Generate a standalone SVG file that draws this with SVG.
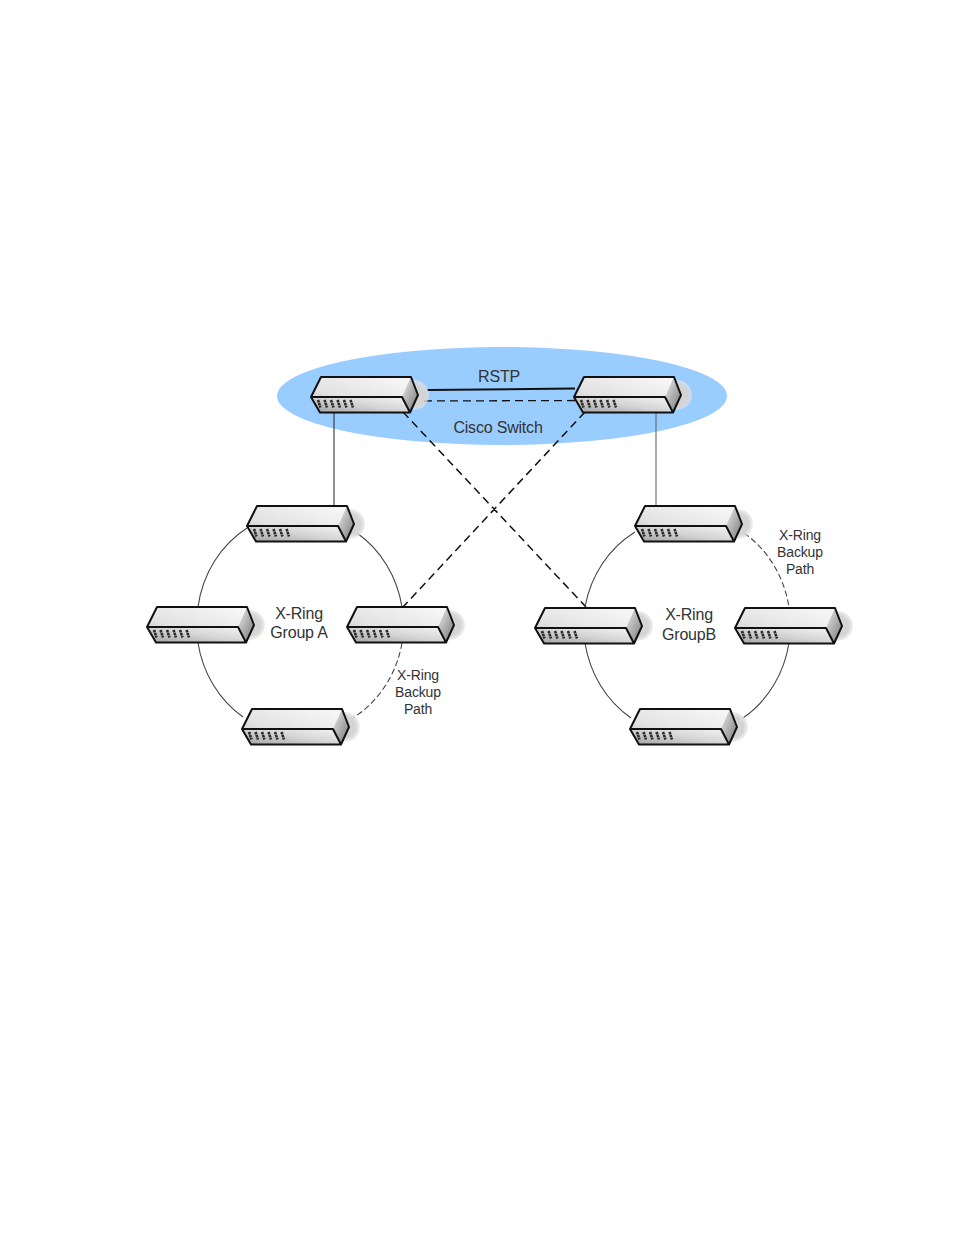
<svg xmlns="http://www.w3.org/2000/svg" width="954" height="1235" viewBox="0 0 954 1235">
<style>
.t{font-family:"Liberation Sans",Arial,sans-serif;fill:#333;text-anchor:middle}
.l{font-size:16px;letter-spacing:-.2px}.s{font-size:14px;letter-spacing:-.15px}
.ln{fill:none;stroke:#444;stroke-width:1.100}
.d{fill:none;stroke:#111;stroke-width:1.500;stroke-dasharray:8 5}
.dt{fill:none;stroke:#444;stroke-width:1.100;stroke-dasharray:6 3}
</style>
<defs>
<linearGradient id="top" x1="0" y1="1" x2="1" y2="0"><stop offset="0" stop-color="#bdbdbd"/><stop offset=".35" stop-color="#e2e2e2"/><stop offset="1" stop-color="#fafafa"/></linearGradient>
<linearGradient id="front" x1="0" y1="1" x2="1" y2="0"><stop offset="0" stop-color="#a0a0a0"/><stop offset=".5" stop-color="#d4d4d4"/><stop offset="1" stop-color="#f4f4f4"/></linearGradient>
<linearGradient id="side" x1="0" y1="0" x2="1" y2="1"><stop offset="0" stop-color="#eee"/><stop offset=".55" stop-color="#aaa"/><stop offset="1" stop-color="#777"/></linearGradient>
<radialGradient id="shadow"><stop offset=".7" stop-color="#d4d4d4"/><stop offset="1" stop-color="#e4e4e4" stop-opacity=".6"/></radialGradient>
<g id="sw">
<circle cx="103" cy="-2" r="15" fill="url(#shadow)"/>
<path d="M0 0L10-20H100L107-2L99 15.500H9Z" fill="url(#top)"/>
<path d="M0 0H91L99 15.500H9Z" fill="url(#front)"/>
<path d="M91 0L100-20L107-2L99 15.500Z" fill="url(#side)"/>
<path d="M0 0L10-20H100L107-2L99 15.500H9ZM0 0H91L99 15.500" fill="none" stroke="#111" stroke-width="2" stroke-linejoin="round"/>
<path d="M7 3l2.500 7.500M13.500 3l2.500 7.500M20 3l2.500 7.500M26.500 3l2.500 7.500M33 3l2.500 7.500M39.500 3l2.500 7.500" fill="none" stroke="#2a2a2a" stroke-width="2.600" stroke-dasharray="2.500 .6"/>
</g>
</defs>
<rect width="954" height="1235" fill="#fff"/>
<ellipse id="cloud" cx="502" cy="396" rx="225" ry="49" fill="#99ccff"/>
<g id="connectors">
<path class="ln" style="stroke-width:2;stroke:#111" d="M427 390L575 388.500"/>
<path class="d" style="stroke-width:1.300" d="M424 401L575 400.500"/>
<path class="d" d="M403 412L586 607M585 412L403 607"/>
<path class="ln" style="stroke:#333" d="M334 412V506"/>
<path class="ln" style="stroke:#666" d="M656 412V507"/>
<path class="ln" d="M247 528A103 111 0 0 0 198 607M357 533A103 111 0 0 1 402 607M198 643A103 111 0 0 0 243 717"/>
<path class="dt" d="M402 643A103 111 0 0 1 353 718"/>
<path class="ln" d="M635 532A102 111 0 0 0 585 607M585 643A102 111 0 0 0 631 718M789 643A102 111 0 0 1 743 718"/>
<path class="dt" d="M744 533A102 111 0 0 1 789 607"/>
</g>
<g id="sw-tl"><use href="#sw" x="311" y="397"/></g>
<g id="sw-tr"><use href="#sw" x="574" y="397"/></g>
<g id="sw-a-top"><use href="#sw" x="247" y="526"/></g>
<g id="sw-a-left"><use href="#sw" x="147" y="627"/></g>
<g id="sw-a-right"><use href="#sw" x="347" y="627"/></g>
<g id="sw-a-bottom"><use href="#sw" x="242" y="729"/></g>
<g id="sw-b-top"><use href="#sw" x="635" y="526"/></g>
<g id="sw-b-left"><use href="#sw" x="535" y="628"/></g>
<g id="sw-b-right"><use href="#sw" x="735" y="628"/></g>
<g id="sw-b-bottom"><use href="#sw" x="630" y="729"/></g>
<g id="labels">
<text class="t l" x="499" y="382">RSTP</text>
<text class="t l" x="498" y="433">Cisco Switch</text>
<text class="t l" x="299" y="619">X-Ring</text>
<text class="t l" x="299" y="638">Group A</text>
<text class="t l" x="689" y="620">X-Ring</text>
<text class="t l" x="689" y="640">GroupB</text>
<text class="t s" x="418" y="680">X-Ring</text>
<text class="t s" x="418" y="697">Backup</text>
<text class="t s" x="418" y="714">Path</text>
<text class="t s" x="800" y="540">X-Ring</text>
<text class="t s" x="800" y="557">Backup</text>
<text class="t s" x="800" y="574">Path</text>
</g>
</svg>
